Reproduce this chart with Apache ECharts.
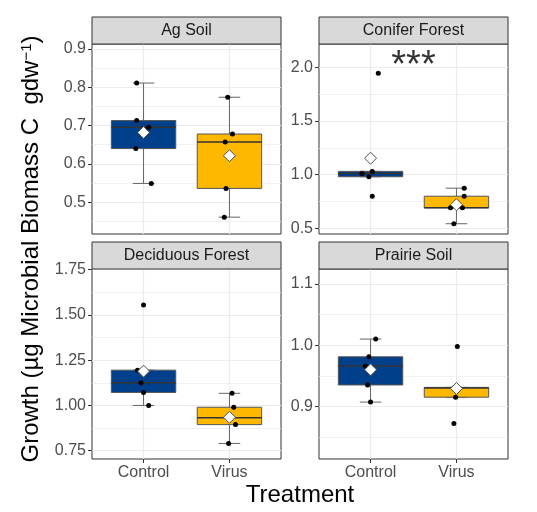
<!DOCTYPE html>
<html>
<head>
<meta charset="utf-8">
<script src="https://cdn.jsdelivr.net/npm/echarts@6/dist/echarts.min.js"></script>
<style>
  html, body { margin: 0; padding: 0; background: #fff; }
  #chart { width: 537px; height: 512px; }
</style>
</head>
<body>
<div id="chart"></div>
<script>
// panels and treatments
var panelNames = ['Ag Soil', 'Conifer Forest', 'Deciduous Forest', 'Prairie Soil'];
var treatments = ['Control', 'Virus'];

// growth values, one array per panel and treatment
var agSoilControl = [0.811, 0.713, 0.696, 0.640, 0.549];
var agSoilVirus = [0.774, 0.678, 0.657, 0.536, 0.461];
var coniferControl = [1.947, 1.030, 1.010, 0.980, 0.798];
var coniferVirus = [0.873, 0.798, 0.691, 0.690, 0.541];
var deciduousControl = [1.555, 1.195, 1.125, 1.072, 1.000];
var deciduousVirus = [1.067, 0.990, 0.932, 0.894, 0.790];
var prairieControl = [1.010, 0.981, 0.966, 0.935, 0.907];
var prairieVirus = [0.998, 0.931, 0.930, 0.915, 0.872];

// horizontal jitter of each point (in category units)
var agSoilControlJitter = [-0.08, -0.08, 0.06, -0.09, 0.09];
var agSoilVirusJitter = [-0.02, 0.035, -0.05, -0.04, -0.06];
var coniferControlJitter = [0.09, 0.02, -0.10, -0.02, 0.02];
var coniferVirusJitter = [0.09, 0.09, -0.07, 0.07, -0.03];
var deciduousControlJitter = [0.0, -0.07, -0.03, 0.0, 0.06];
var deciduousVirusJitter = [0.03, 0.05, -0.02, 0.07, -0.01];
var prairieControlJitter = [0.06, -0.02, -0.06, -0.035, 0.0];
var prairieVirusJitter = [0.01, 0.0, -0.03, -0.01, -0.03];

// y scales of the four panels
var yMin = [0.417, 0.445, 0.704, 0.814];
var yMax = [0.913, 2.22, 1.754, 1.1245];
var yTicks = [[0.5, 0.6, 0.7, 0.8, 0.9], [0.5, 1.0, 1.5, 2.0], [0.75, 1.0, 1.25, 1.5, 1.75], [0.9, 1.0, 1.1]];
var yMinorTicks = [[0.45, 0.55, 0.65, 0.75, 0.85], [0.75, 1.25, 1.75], [0.875, 1.125, 1.375, 1.625], [0.85, 0.95, 1.05]];
var yDecimals = [1, 1, 2, 1];

// significance annotation
var sigText = ['', '***', '', ''];
var sigY = [null, 2.08, null, null];

var allData = [
    [agSoilControl, agSoilVirus],
    [coniferControl, coniferVirus],
    [deciduousControl, deciduousVirus],
    [prairieControl, prairieVirus]
];
var allJitter = [
    [agSoilControlJitter, agSoilVirusJitter],
    [coniferControlJitter, coniferVirusJitter],
    [deciduousControlJitter, deciduousVirusJitter],
    [prairieControlJitter, prairieVirusJitter]
];

// layout
var gridLeft = [92, 319, 92, 319];
var gridTop = [44, 44, 269, 269];
var gridWidth = 189;
var gridHeight = 190;
var stripHeight = 27;
var fillColors = ['#003F8A', '#FFB800'];
var FONT = 'Liberation Sans, Arial, sans-serif';
var BOX_HALF = 0.375;
var CAP_HALF = 0.125;

// type-7 quantile, like R
function quantile(sorted, p) {
    var h = (sorted.length - 1) * p;
    var lo = Math.floor(h);
    var hi = Math.ceil(h);
    return sorted[lo] + (h - lo) * (sorted[hi] - sorted[lo]);
}

function boxStats(values) {
    var s = values.slice().sort(function(a, b) { return a - b; });
    var q1 = quantile(s, 0.25), med = quantile(s, 0.5), q3 = quantile(s, 0.75);
    var iqr = q3 - q1;
    var lo = s.filter(function(v) { return v >= q1 - 1.5 * iqr; })[0];
    var inside = s.filter(function(v) { return v <= q3 + 1.5 * iqr; });
    var hi = inside[inside.length - 1];
    var mean = values.reduce(function(a, b) { return a + b; }, 0) / values.length;
    return { q1: q1, med: med, q3: q3, lo: lo, hi: hi, mean: mean };
}

function renderBox(params, api) {
    var x = api.value(0);
    var q1 = api.value(1), med = api.value(2), q3 = api.value(3);
    var lo = api.value(4), hi = api.value(5);
    var color = fillColors[api.value(6)];
    var tl = api.coord([x - BOX_HALF, q3]);
    var br = api.coord([x + BOX_HALF, q1]);
    var mL = api.coord([x - BOX_HALF, med]);
    var mR = api.coord([x + BOX_HALF, med]);
    var top = api.coord([x, hi]);
    var bot = api.coord([x, lo]);
    var capTL = api.coord([x - CAP_HALF, hi]);
    var capTR = api.coord([x + CAP_HALF, hi]);
    var capBL = api.coord([x - CAP_HALF, lo]);
    var capBR = api.coord([x + CAP_HALF, lo]);
    var lineStyle = { stroke: '#666666', lineWidth: 1 };
    return {
        type: 'group',
        children: [
            { type: 'line', shape: { x1: top[0], y1: top[1], x2: bot[0], y2: bot[1] }, style: lineStyle },
            { type: 'line', shape: { x1: capTL[0], y1: capTL[1], x2: capTR[0], y2: capTR[1] }, style: lineStyle },
            { type: 'line', shape: { x1: capBL[0], y1: capBL[1], x2: capBR[0], y2: capBR[1] }, style: lineStyle },
            { type: 'rect', shape: { x: tl[0], y: tl[1], width: br[0] - tl[0], height: br[1] - tl[1] },
              style: { fill: color, stroke: '#555555', lineWidth: 1 } },
            { type: 'line', shape: { x1: mL[0], y1: mL[1], x2: mR[0], y2: mR[1] },
              style: { stroke: '#333333', lineWidth: 1.5 } }
        ]
    };
}

var grids = [], xAxes = [], yAxes = [], series = [], graphics = [];

panelNames.forEach(function(name, i) {
    var bottomRow = i >= 2;
    grids.push({
        left: gridLeft[i], top: gridTop[i], width: gridWidth, height: gridHeight,
        show: true, borderColor: '#333333', borderWidth: 1, backgroundColor: '#ffffff'
    });
    xAxes.push({
        gridIndex: i, type: 'value', min: 0.4, max: 2.6,
        axisLine: { show: false },
        axisTick: { show: bottomRow, customValues: [1, 2], length: 4, lineStyle: { color: '#333333' } },
        axisLabel: {
            show: bottomRow, customValues: [1, 2], fontSize: 16, color: '#4D4D4D', fontFamily: FONT, margin: 6,
            formatter: function(v) { return treatments[Math.round(v) - 1]; }
        },
        splitLine: { show: true, lineStyle: { color: '#EBEBEB', width: 1.2 } }
    });
    yAxes.push({
        gridIndex: i, type: 'value', min: yMin[i], max: yMax[i],
        axisLine: { show: false },
        axisTick: { show: true, customValues: yTicks[i], length: 4, lineStyle: { color: '#333333' } },
        axisLabel: {
            customValues: yTicks[i], fontSize: 16, color: '#4D4D4D', fontFamily: FONT, margin: 6,
            formatter: (function(d) { return function(v) { return v.toFixed(d); }; })(yDecimals[i])
        },
        splitLine: { show: true, lineStyle: { color: '#EBEBEB', width: 1.2 } }
    });

    // box data
    var boxes = allData[i].map(function(vals, t) {
        var s = boxStats(vals);
        return [t + 1, s.q1, s.med, s.q3, s.lo, s.hi, t];
    });
    var means = allData[i].map(function(vals, t) {
        return [t + 1, boxStats(vals).mean];
    });
    var pts = [];
    allData[i].forEach(function(vals, t) {
        vals.forEach(function(v, k) { pts.push([t + 1 + allJitter[i][t][k], v]); });
    });

    series.push({
        type: 'custom', xAxisIndex: i, yAxisIndex: i, renderItem: renderBox,
        data: boxes, z: 2, silent: true
    });
    series.push({
        type: 'scatter', xAxisIndex: i, yAxisIndex: i, data: pts, symbolSize: 5,
        itemStyle: { color: '#000000', opacity: 1 }, z: 3, silent: true
    });
    series.push({
        type: 'scatter', xAxisIndex: i, yAxisIndex: i, data: means, symbol: 'diamond', symbolSize: 12,
        itemStyle: { color: '#ffffff', borderColor: '#4D4D4D', borderWidth: 1, opacity: 1 }, z: 4, silent: true
    });
    if (sigText[i]) {
        series.push({
            type: 'scatter', xAxisIndex: i, yAxisIndex: i, data: [[1.5, sigY[i]]], symbolSize: 0,
            label: { show: true, position: 'inside', formatter: sigText[i], fontSize: 38,
                     fontFamily: FONT, color: '#000000', offset: [0, 8] },
            z: 5, silent: true
        });
    }

    // facet strip
    graphics.push({
        type: 'rect', shape: { x: gridLeft[i], y: gridTop[i] - stripHeight, width: gridWidth, height: stripHeight },
        style: { fill: '#D9D9D9', stroke: '#333333', lineWidth: 1 }, z: 10
    });
    graphics.push({
        type: 'text', x: gridLeft[i] + gridWidth / 2, y: gridTop[i] - stripHeight / 2,
        style: { text: name, fontSize: 16, fontFamily: FONT, fill: '#1A1A1A', align: 'center', verticalAlign: 'middle' },
        z: 11
    });
});

// minor grid lines, one hidden y axis per panel
panelNames.forEach(function(name, i) {
    yAxes.push({
        gridIndex: i, type: 'value', min: yMin[i], max: yMax[i], position: 'left',
        axisLine: { show: false },
        axisTick: { show: false, customValues: yMinorTicks[i] },
        axisLabel: { show: false, customValues: yMinorTicks[i] },
        splitLine: { show: true, lineStyle: { color: '#EBEBEB', width: 0.7 } }
    });
});

// axis titles
graphics.push({
    type: 'text', x: 300, y: 495,
    style: { text: 'Treatment', fontSize: 24, fontFamily: FONT, fill: '#000000', align: 'center', verticalAlign: 'middle' }
});
graphics.push({
    type: 'text', x: 31, y: 249, rotation: Math.PI / 2,
    style: {
        text: '{n|Growth (µg Microbial Biomass C  gdw}{s|−1}{n|)}',
        align: 'center', verticalAlign: 'middle',
        rich: {
            n: { fontSize: 24, fontFamily: FONT, fill: '#000000', verticalAlign: 'bottom' },
            s: { fontSize: 15, fontFamily: FONT, fill: '#000000', verticalAlign: 'top' }
        }
    }
});

var chart = echarts.init(document.getElementById('chart'));
chart.setOption({
    animation: false,
    backgroundColor: '#ffffff',
    grid: grids,
    xAxis: xAxes,
    yAxis: yAxes,
    series: series,
    graphic: graphics
});
</script>
</body>
</html>
